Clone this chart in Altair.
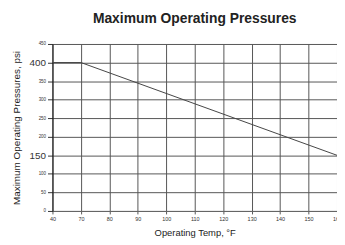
import altair as alt
import pandas as pd

temp_ticks = [40, 70, 80, 90, 100, 110, 120, 130, 140, 150, 160]
line_temps = [40, 70, 160]
line_psi = [400, 400, 150]

df = pd.DataFrame({"temp": line_temps, "psi": line_psi})

chart = alt.Chart(df).mark_line(color="#444444", strokeWidth=1).encode(
    x=alt.X("temp:O", scale=alt.Scale(type="point", domain=temp_ticks, padding=0),
            sort=temp_ticks,
            axis=alt.Axis(title="Operating Temp, °F", labelAngle=0, labelFontSize=5.5,
                          labelColor="#333", labelPadding=3, tickSize=3, tickColor="#555",
                          domainColor="#666", gridColor="#555", grid=True,
                          titleFontSize=9.5, titleFontWeight="normal", titlePadding=5,
                          titleColor="#222", labelFont="Liberation Sans", titleFont="Liberation Sans")),
    y=alt.Y("psi:Q", scale=alt.Scale(domain=[0, 450], nice=False),
            axis=alt.Axis(title="Maximum Operating Pressures, psi", values=list(range(0, 451, 50)),
                          labelFontSize={"condition": {"test": "datum.value == 400 || datum.value == 150", "value": 10}, "value": 4.5},
                          labelColor="#333", labelPadding=2, tickSize=5, tickColor="#333",
                          domainColor="#111", gridColor="#555",
                          titleFontSize=10, titleFontWeight="normal", titlePadding=8,
                          titleColor="#222", labelFont="Liberation Sans", titleFont="Liberation Sans")),
).properties(
    width=288, height=169,
    title=alt.TitleParams("Maximum Operating Pressures", fontSize=14, fontWeight="bold",
                          font="Liberation Sans", color="#222", anchor="middle", offset=15),
    autosize=alt.AutoSizeParams(type="none"),
    padding={"left": 45, "top": 35, "right": 0, "bottom": 30},
).configure_view(stroke=None).configure_axis(gridWidth=1)

chart.save("out.html", embed_options={"renderer": "svg", "actions": False})
